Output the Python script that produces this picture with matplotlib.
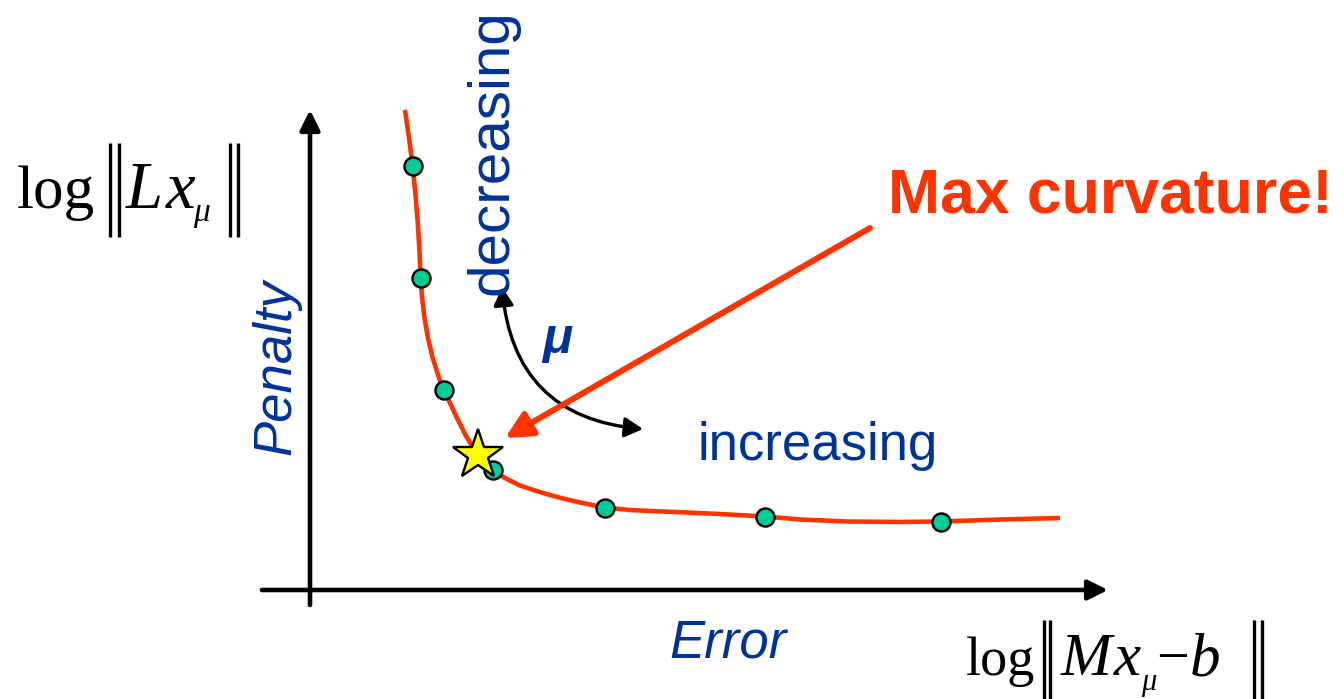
import matplotlib.pyplot as plt
from matplotlib.patches import FancyArrowPatch

plt.rcParams["font.family"] = ["Liberation Sans", "DejaVu Sans"]

RED = "#FF3300"
BLUE = "#003399"
GREEN = "#00CC99"
SERIF = ["Liberation Serif", "DejaVu Serif"]

# L-curve trace: error (x) against penalty (y), log units from the origin
curve_x = [0.950, 0.990, 1.027, 1.055, 1.077, 1.094, 1.107, 1.121, 1.145,
           1.179, 1.227, 1.291, 1.341, 1.400, 1.470, 1.550, 1.620, 1.680,
           1.750, 1.830, 1.950, 2.100, 2.250, 2.400, 2.550, 2.700, 2.850,
           2.950, 3.200, 3.450, 3.700, 4.100, 4.550, 4.900, 5.370, 5.900,
           6.310, 6.900, 7.500]
curve_y = [4.800, 4.520, 4.240, 3.950, 3.680, 3.400, 3.120, 2.920, 2.720,
           2.520, 2.320, 2.120, 2.000, 1.870, 1.720, 1.560, 1.440, 1.350,
           1.270, 1.200, 1.120, 1.045, 0.995, 0.950, 0.910, 0.875, 0.845,
           0.825, 0.800, 0.788, 0.778, 0.760, 0.735, 0.705, 0.685, 0.680,
           0.685, 0.705, 0.720]

# sampled solutions along the curve (one per value of mu)
pts_x = [1.027, 1.107, 1.341, 1.830, 2.950, 4.550, 6.310]
pts_y = [4.240, 3.120, 2.000, 1.200, 0.825, 0.735, 0.685]

# corner of the L (max curvature)
corner = (1.68, 1.35)


def at(x, y):
    # figure pixel position (from top-left) -> data coords
    return (x - 310) / 100, (590 - y) / 100


def norm_bars(xs, top, bottom):
    # the tall double bars of a norm, drawn as thin rules
    for bx in xs:
        x0, y0 = at(bx, top)
        _, y1 = at(bx, bottom)
        ax.plot([x0, x0], [y0, y1], color="black", lw=2.4,
                solid_capstyle="butt", clip_on=False)


fig = plt.figure(figsize=(13.44, 6.99), dpi=100)
ax = fig.add_axes([0, 0, 1, 1])
ax.set_xlim(-3.10, 10.34)
ax.set_ylim(-1.09, 5.90)
ax.axis("off")

# axes arrows
axis_arrow = dict(arrowstyle="-|>,head_length=1.2,head_width=0.6",
                  lw=3.3, color="black", shrinkA=0, shrinkB=0)
ax.annotate("", xy=(0, 4.80), xytext=(0, -0.15), arrowprops=axis_arrow)
ax.annotate("", xy=(7.98, 0), xytext=(-0.48, 0), arrowprops=axis_arrow)

ax.plot(curve_x, curve_y, color=RED, lw=3.3, solid_capstyle="butt",
        solid_joinstyle="round", zorder=3)
ax.plot(pts_x, pts_y, "o", ms=13, mfc=GREEN, mec="black", mew=1.7, zorder=4)
ax.plot(*corner, marker="*", ms=38, mfc="#FFFF00", mec="black", mew=1.7, zorder=5)

# mu direction arrow
mu_arrow = FancyArrowPatch((1.92, 3.03), (3.33, 1.61),
                           connectionstyle="angle3,angleA=-85,angleB=175",
                           arrowstyle="<|-|>,head_length=11,head_width=6",
                           lw=2.4, color="black", shrinkA=0, shrinkB=0, zorder=3)
ax.add_patch(mu_arrow)

# pointer to the corner
ax.annotate("", xy=(1.95, 1.52), xytext=(5.60, 3.62),
            arrowprops=dict(arrowstyle="-|>,head_length=1.6,head_width=0.8",
                            lw=4.3, color=RED, shrinkA=0, shrinkB=0), zorder=6)

ax.text(8.00, 3.78, "Max curvature!", color=RED, fontsize=45, fontweight="bold",
        ha="center", va="baseline")
ax.text(1.83, 4.38, "decreasing", color=BLUE, fontsize=42, rotation=90,
        ha="center", va="center")
ax.text(5.075, 1.30, "increasing", color=BLUE, fontsize=38,
        ha="center", va="baseline")
ax.text(2.47, 2.50, "μ", color=BLUE, fontsize=36, fontweight="bold",
        style="italic", ha="center", va="center")
ax.text(-0.34, 2.23, "Penalty", color=BLUE, fontsize=38, style="italic",
        rotation=90, ha="center", va="center")
ax.text(4.18, -0.68, "Error", color=BLUE, fontsize=38, style="italic",
        ha="center", va="baseline")

# y label: log ||L x_mu||
ax.text(*at(17, 208), "log", fontsize=44, family=SERIF, va="baseline")
ax.text(*at(126, 208), "L", fontsize=48, family=SERIF, style="italic", va="baseline")
ax.text(*at(166, 208), "x", fontsize=48, family=SERIF, style="italic", va="baseline")
ax.text(*at(193, 221), "μ", fontsize=24, family=SERIF, style="italic", va="baseline")
norm_bars([109.5, 118.7, 229.7, 237.8], 143, 237)

# x label: log ||M x_mu - b||
ax.text(*at(966, 675), "log", fontsize=39, family=SERIF, va="baseline")
ax.text(*at(1061, 675), "M", fontsize=44, family=SERIF, style="italic", va="baseline")
ax.text(*at(1114, 675), "x", fontsize=44, family=SERIF, style="italic", va="baseline")
ax.text(*at(1141, 690), "μ", fontsize=22, family=SERIF, style="italic", va="baseline")
ax.text(*at(1173, 675), "\u2212", fontsize=42, family=SERIF, ha="center", va="baseline")
ax.text(*at(1190, 675), "b", fontsize=44, family=SERIF, style="italic", va="baseline")
norm_bars([1044, 1050.3, 1254, 1261.7], 620, 705)

fig.savefig("out.png", dpi=100)
